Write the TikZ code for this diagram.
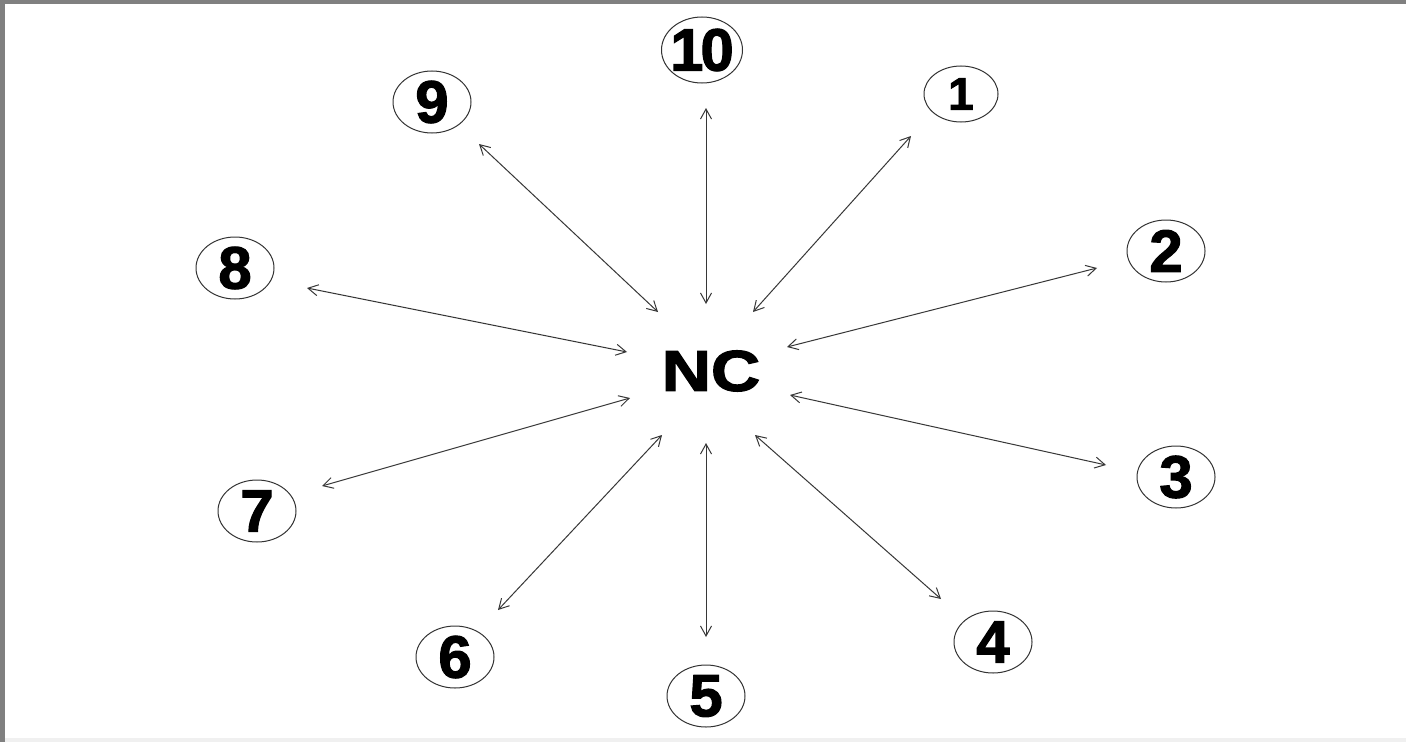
\documentclass[tikz,border=0pt]{standalone}
\usepackage{fontspec}
\setmainfont{Liberation Sans}[BoldFeatures={FakeBold=2}]
\usetikzlibrary{arrows.meta,shapes.geometric}
\definecolor{framegray}{RGB}{128,128,128}
\definecolor{arrowgray}{RGB}{55,55,55}
\tikzset{
  num/.style={ellipse,draw=black!80,line width=1bp,minimum width=78bp,minimum height=62bp,inner sep=0pt,
    font=\fontsize{60}{60}\selectfont\bfseries},
  small/.style={minimum width=74bp,minimum height=56bp,font=\fontsize{46}{46}\selectfont\bfseries},
  link/.style={draw=arrowgray,line width=1bp,{Straight Barb[length=10bp,width=11bp]}-{Straight Barb[length=10bp,width=11bp]}},
}
\begin{document}
\begin{tikzpicture}[x=1bp,y=-1bp]
\useasboundingbox (0,0) rectangle (1406,742);
\fill[white] (0,0) rectangle (1406,742);
\fill[framegray] (0,0) rectangle (1406,4);
\fill[framegray] (0,0) rectangle (5,742);
\fill[black!6] (5,738) rectangle (1406,742);

\node (nc) at (711,371) {\fontsize{58}{58}\selectfont\bfseries\scalebox{1.18}[1]{NC}};

\node[num,minimum width=81bp,minimum height=66bp] (n10) at (702,50) {\makebox[0pt]{1\kern-3bp 0}};
\node[num,small] (n1) at (961,94) {1};
\node[num] (n9) at (432,102) {9};
\node[num] (n2) at (1166,251) {2};
\node[num] (n8) at (235,268) {8};
\node[num] (n3) at (1176,477) {3};
\node[num] (n7) at (257,511) {7};
\node[num] (n4) at (993,642) {4};
\node[num] (n6) at (455,657) {6};
\node[num] (n5) at (706,696) {5};

\coordinate (a10o) at (706,108); \coordinate (a10i) at (706,304);
\coordinate (a1o) at (911,136);  \coordinate (a1i) at (753,312);
\coordinate (a9o) at (479,144);  \coordinate (a9i) at (658,312);
\coordinate (a2o) at (1097,268); \coordinate (a2i) at (787,347);
\coordinate (a8o) at (307,288);  \coordinate (a8i) at (627,352);
\coordinate (a3o) at (1106,465); \coordinate (a3i) at (790,395);
\coordinate (a7o) at (322,486);  \coordinate (a7i) at (630,398);
\coordinate (a4o) at (941,599);  \coordinate (a4i) at (755,435);
\coordinate (a6o) at (498,610);  \coordinate (a6i) at (662,435);
\coordinate (a5o) at (706,637);  \coordinate (a5i) at (706,443);

\foreach \k in {10,1,9,2,8,3,7,4,6,5}{
  \draw[link] (a\k o) -- (a\k i);
}
\end{tikzpicture}
\end{document}
